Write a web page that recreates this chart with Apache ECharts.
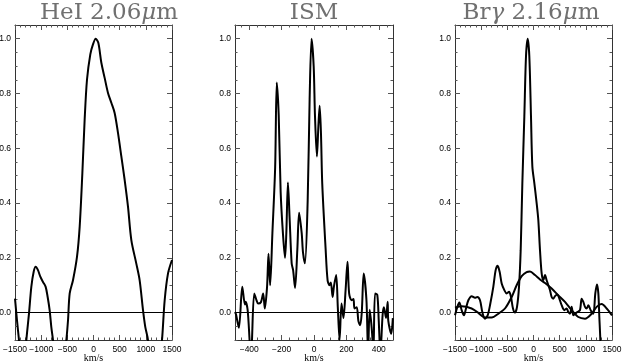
<!DOCTYPE html>
<html>
<head>
<meta charset="utf-8">
<script src="https://cdn.jsdelivr.net/npm/echarts@6/dist/echarts.min.js"></script>
<style>html,body{margin:0;padding:0;background:#fff}#c{width:622px;height:364px}</style>
</head>
<body>
<div id="c"></div>
<script>
// ---- data ----
const titles = ['HeI 2.06', 'ISM', 'Brγ 2.16'];

const heiVel = [-1500,-1462,-1424,-1373,-1347,-1283,-1233,-1188,-1143,-1105,-1061,-1016,-965,-914,-876,-838,-806,-774,-647,-519,-487,-455,-392,-315,-264,-213,-169,-124,-61,-10,41,92,150,213,277,341,404,468,532,595,659,723,818,882,946,990,1041,1169,1309,1360,1424,1500];
const heiFlux = [0.051,-0.028,-0.1,-0.2,-0.26,-0.1,-0.004,0.094,0.149,0.167,0.155,0.131,0.112,0.094,0.057,0.009,-0.053,-0.1,-0.32,-0.1,-0.028,0.07,0.118,0.204,0.314,0.509,0.705,0.851,0.943,0.979,1.0,0.985,0.912,0.857,0.802,0.766,0.729,0.656,0.57,0.485,0.387,0.265,0.179,0.118,0.009,-0.053,-0.1,-0.38,-0.1,0.045,0.143,0.192];

const ismVel = [-488,-482,-464,-443,-427,-423,-410,-398,-388,-383,-369,-355,-345,-328,-314,-304,-290,-281,-271,-257,-240,-230,-218,-206,-192,-179,-171,-161,-151,-138,-129,-117,-103,-92,-76,-68,-56,-39,-27,-15,-2,6,18,27,35,43,51,72,84,96,104,115,123,137,147,158,170,170,182,195,207,217,232,244,250,264,274,285,295,307,324,334,344,357,367,377,391,400,410,424,432,445,455,459,477,487];
const ismFlux = [0.002,-0.006,-0.055,0.094,0.03,0.04,0.01,-0.1,-0.2,-0.1,0.07,0.045,0.033,0.038,0.07,0.015,0.094,0.215,0.1,0.29,0.53,0.84,0.72,0.44,0.29,0.2,0.29,0.475,0.35,0.18,0.155,0.09,0.23,0.365,0.29,0.22,0.18,0.41,0.78,1.0,0.9,0.72,0.57,0.68,0.755,0.656,0.47,0.23,0.118,0.1,0.11,0.057,0.095,0.137,0.02,-0.1,0.033,0.033,-0.02,0.08,0.186,0.07,0.045,0.05,0.015,0.02,-0.03,-0.046,0.0,0.143,0.045,-0.15,0.01,-0.06,-0.15,0.07,0.065,-0.03,-0.15,-0.007,0.02,-0.02,0.04,-0.03,-0.077,-0.02];

const brVel = [-1500,-1455,-1417,-1373,-1328,-1290,-1245,-1182,-1118,-1073,-1022,-978,-927,-876,-825,-768,-723,-685,-647,-608,-557,-513,-468,-430,-392,-354,-315,-277,-245,-213,-175,-143,-111,-80,-48,-22,16,60,92,124,156,188,220,251,283,315,347,379,411,455,494,538,589,634,665,697,729,761,793,837,888,920,952,984,1016,1048,1092,1143,1181,1213,1239,1258,1277,1302,1500];
const brFlux = [-0.01,0.021,0.037,0.009,-0.01,0.015,0.045,0.06,0.054,0.057,0.045,0.002,-0.022,-0.01,0.033,0.094,0.155,0.171,0.149,0.106,0.082,0.07,0.076,0.057,0.015,0.0,0.021,0.094,0.228,0.473,0.717,0.937,1.0,0.937,0.717,0.534,0.473,0.4,0.338,0.228,0.143,0.118,0.137,0.118,0.1,0.082,0.057,0.051,0.06,0.066,0.051,0.027,0.009,0.015,0.002,-0.004,0.021,-0.01,-0.004,0.002,0.009,0.051,0.039,0.021,0.015,0.027,0.009,-0.004,0.07,0.103,0.07,-0.016,-0.1,-0.3,-0.3];

const brBroadVel = [-1500,-1373,-1182,-1054,-927,-799,-672,-545,-417,-322,-226,-131,-67,29,124,220,347,475,602,729,857,984,1111,1207,1302,1398,1500];
const brBroadFlux = [0.018,0.023,0.015,-0.001,-0.018,-0.018,-0.004,0.015,0.057,0.1,0.133,0.148,0.15,0.137,0.121,0.108,0.088,0.063,0.039,0.009,-0.016,-0.022,-0.004,0.021,0.031,0.015,-0.01];

const xMajorWide = [-1500,-1000,-500,0,500,1000,1500];
const xMajorISM = [-400,-200,0,200,400];
const yMajor = [0,0.2,0.4,0.6,0.8,1.0];

// ---- layout ----
const panels = [
  {left:15, width:157, xmin:-1500, xmax:1500, major:xMajorWide, minorStep:100, titleX:104},
  {left:235, width:158, xmin:-488, xmax:488, major:xMajorISM, minorStep:50, titleX:309},
  {left:455, width:157, xmin:-1500, xmax:1500, major:xMajorWide, minorStep:100, titleX:526}
];
const YMIN=-0.1, YMAX=1.05;
function range(a,b,s){const r=[];for(let v=Math.ceil(a/s-1e-9)*s;v<=b+1e-9;v+=s)r.push(Math.round(v*1000)/1000);return r;}
const yMinor = range(YMIN, YMAX, 0.05);

const FONT = "'Liberation Sans Narrow', 'Liberation Sans', sans-serif";
const NAMEFONT = "'Liberation Serif', serif";
const axisColor = '#333';
const grid=[], xAxis=[], yAxis=[], series=[], title=[];
panels.forEach((p,i)=>{
  grid.push({left:p.left, top:25, width:p.width, height:315, containLabel:false, outerBoundsMode:'none'});
  const xMinor = range(p.xmin, p.xmax, p.minorStep);
  const base = {type:'value', gridIndex:i, min:p.xmin, max:p.xmax, splitLine:{show:false}};
  xAxis.push(Object.assign({}, base, {position:'bottom',
    axisLine:{show:true, onZero:false, lineStyle:{color:axisColor,width:1}},
    axisTick:{show:true, inside:true, length:5, customValues:p.major, lineStyle:{color:'#555'}},
    axisLabel:{show:true, customValues:p.major, margin:5, color:'#000', fontFamily:FONT, fontSize:8.5,
      formatter:v=>String(v).replace('-','\u2212')},
    name:'km/s', nameLocation:'middle', nameGap:13, nameMoveOverlap:false,
    nameTextStyle:{color:'#000', fontFamily:NAMEFONT, fontSize:10, verticalAlign:'top'}}));
  xAxis.push(Object.assign({}, base, {position:'bottom',
    axisLine:{show:false, onZero:false}, axisTick:{show:true, inside:true, length:2.5, customValues:xMinor, lineStyle:{color:'#555'}},
    axisLabel:{show:false}}));
  xAxis.push(Object.assign({}, base, {position:'top',
    axisLine:{show:true, onZero:false, lineStyle:{color:axisColor,width:1}},
    axisTick:{show:true, inside:true, length:5, customValues:p.major, lineStyle:{color:'#555'}},
    axisLabel:{show:false}}));
  xAxis.push(Object.assign({}, base, {position:'top',
    axisLine:{show:false, onZero:false}, axisTick:{show:true, inside:true, length:2.5, customValues:xMinor, lineStyle:{color:'#555'}},
    axisLabel:{show:false}}));
  const ybase = {type:'value', gridIndex:i, min:YMIN, max:YMAX, splitLine:{show:false}};
  yAxis.push(Object.assign({}, ybase, {position:'left',
    axisLine:{show:true, onZero:false, lineStyle:{color:axisColor,width:1}},
    axisTick:{show:true, inside:true, length:5, customValues:yMajor, lineStyle:{color:'#555'}},
    axisLabel:{show:true, customValues:yMajor, margin:4, color:'#000', fontFamily:FONT, fontSize:8.5, formatter:v=>v.toFixed(1)}}));
  yAxis.push(Object.assign({}, ybase, {position:'left',
    axisLine:{show:false, onZero:false}, axisTick:{show:true, inside:true, length:2.5, customValues:yMinor, lineStyle:{color:'#555'}},
    axisLabel:{show:false}}));
  yAxis.push(Object.assign({}, ybase, {position:'right',
    axisLine:{show:true, onZero:false, lineStyle:{color:axisColor,width:1}},
    axisTick:{show:true, inside:true, length:5, customValues:yMajor, lineStyle:{color:'#555'}},
    axisLabel:{show:false}}));
  yAxis.push(Object.assign({}, ybase, {position:'right',
    axisLine:{show:false, onZero:false}, axisTick:{show:true, inside:true, length:2.5, customValues:yMinor, lineStyle:{color:'#555'}},
    axisLabel:{show:false}}));
  title.push({
    text: i===1 ? 'ISM' : (i===0 ? 'HeI 2.06{mu|μ}m' : 'Br{g|γ} 2.16{mu|μ}m'),
    left:p.titleX, top:-3, textAlign:'center',
    textStyle:{fontFamily:'DejaVu Serif', fontSize:23, fontWeight:'normal', color:'#707070',
      rich:{mu:{fontFamily:'DejaVu Serif', fontStyle:'italic', fontSize:23, color:'#707070'},
            g:{fontFamily:'DejaVu Serif', fontStyle:'italic', fontSize:23, color:'#707070'}}}
  });
});

function mk(vel, flux){ return vel.map((v,k)=>[v, flux[k]]); }
function line(i, data, withZero){
  const s = {type:'line', xAxisIndex:i*4, yAxisIndex:i*4, data:data, showSymbol:false, smooth:0.3,
    lineStyle:{color:'#000', width:2}, clip:true, animation:false, silent:true};
  if(withZero){
    s.markLine = {silent:true, symbol:['none','none'], label:{show:false},
      lineStyle:{color:'#000', width:1, type:'solid'}, data:[{yAxis:0}], animation:false};
  }
  return s;
}
series.push(line(0, mk(heiVel, heiFlux), true));
series.push(line(1, mk(ismVel, ismFlux), true));
series.push(line(2, mk(brVel, brFlux), true));
series.push(line(2, mk(brBroadVel, brBroadFlux), false));

const chart = echarts.init(document.getElementById('c'), null, {renderer:'canvas'});
chart.setOption({animation:false, backgroundColor:'#fff', title, grid, xAxis, yAxis, series});
</script>
</body>
</html>
